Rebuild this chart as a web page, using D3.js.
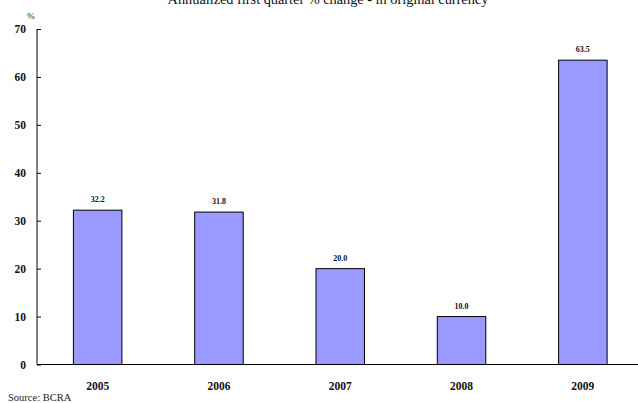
<!DOCTYPE html>
<html>
<head>
<meta charset="utf-8">
<script src="https://cdn.jsdelivr.net/npm/d3@7"></script>
<style>
  html, body { margin: 0; padding: 0; background: #fff; }
  svg { display: block; font-family: "Liberation Serif", "Times New Roman", serif; }
</style>
</head>
<body>
<svg id="chart" width="638" height="403"></svg>
<script>
// Annualized first-quarter % change, original currency
const years = ["2005", "2006", "2007", "2008", "2009"];
const values = [32.2, 31.8, 20.0, 10.0, 63.5];
const yTicks = [0, 10, 20, 30, 40, 50, 60, 70];

const svg = d3.select("#chart");
const plot = { left: 37, right: 643.5, top: 29, bottom: 364.5 };

const x = d3.scaleBand()
  .domain(years)
  .range([plot.left, plot.right])
  .paddingInner(0.6)
  .paddingOuter(0.3);

const y = d3.scaleLinear()
  .domain([0, 70])
  .range([plot.bottom, plot.top]);

// Title
svg.append("text")
  .attr("x", 328).attr("y", 4)
  .attr("text-anchor", "middle")
  .attr("font-size", 14.3)
  .attr("fill", "#111")
  .text("Annualized first quarter % change - in original currency");

// Unit label
svg.append("text")
  .attr("x", 31).attr("y", 19)
  .attr("text-anchor", "middle")
  .attr("font-size", 9)
  .attr("fill", "#222")
  .text("%");

// Bars
svg.append("g").selectAll("rect")
  .data(values)
  .join("rect")
  .attr("x", (d, i) => x(years[i]))
  .attr("y", d => y(d))
  .attr("width", x.bandwidth())
  .attr("height", d => y(0) - y(d))
  .attr("fill", "#9999ff")
  .attr("stroke", "#000")
  .attr("stroke-width", 1);

// Value labels
svg.append("g").selectAll("text")
  .data(values)
  .join("text")
  .attr("x", (d, i) => x(years[i]) + x.bandwidth() / 2)
  .attr("y", d => y(d) - 8)
  .attr("text-anchor", "middle")
  .attr("font-size", 8)
  .attr("font-weight", "bold")
  .attr("fill", "#111")
  .text(d => d.toFixed(1));

// Y axis (ticks drawn toward the plot)
const yAxis = svg.append("g")
  .attr("transform", `translate(${plot.left},0)`)
  .call(d3.axisRight(y).tickValues(yTicks).tickSize(4).tickFormat(""));
yAxis.select(".domain").attr("d", `M0,${plot.top}V${plot.bottom}`).attr("stroke", "#000");
yAxis.selectAll(".tick line").attr("stroke", "#000");

svg.append("g").selectAll("text")
  .data(yTicks)
  .join("text")
  .attr("x", 26)
  .attr("y", d => y(d) + 4)
  .attr("text-anchor", "end")
  .attr("font-size", 11.5)
  .attr("font-weight", "bold")
  .attr("fill", "#111")
  .text(d => d);

// X axis
const xAxis = svg.append("g")
  .attr("transform", `translate(0,${y(0)})`)
  .call(d3.axisBottom(x).tickSize(0).tickPadding(17));
xAxis.select(".domain").attr("stroke", "#000").attr("d", `M${plot.left},0H${plot.right}`);
xAxis.selectAll(".tick text")
  .attr("font-family", "Liberation Serif, Times New Roman, serif")
  .attr("font-size", 11.5)
  .attr("font-weight", "bold")
  .attr("fill", "#111");

// Source note
svg.append("text")
  .attr("x", 8).attr("y", 401)
  .attr("font-size", 10.5)
  .attr("fill", "#222")
  .text("Source: BCRA");
</script>
</body>
</html>
